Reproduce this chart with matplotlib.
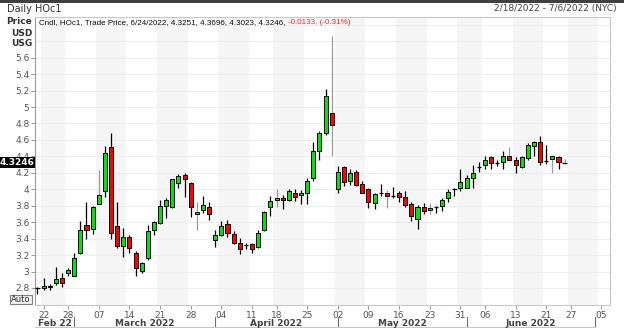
import matplotlib
matplotlib.use("Agg")
import matplotlib.pyplot as plt
from matplotlib.patches import Rectangle
import numpy as np
import pandas as pd

# trading days shown on the axis (NYMEX holidays removed)
holidays = ["2022-02-21", "2022-04-15", "2022-05-30", "2022-06-20", "2022-07-04"]
dates = pd.bdate_range("2022-02-18", "2022-07-06", freq="C", holidays=holidays)

# daily OHLC, HOc1, 2/18/2022 - 6/24/2022
opens = [2.80, 2.80, 2.81, 2.86, 2.92, 2.98, 2.95, 3.22, 3.56, 3.52,
         3.82, 3.98, 4.51, 3.55, 3.31, 3.42, 3.23, 3.01, 3.17, 3.50,
         3.59, 3.80, 3.79, 4.08, 4.17, 4.08, 3.70, 3.75, 3.79, 3.38,
         3.44, 3.58, 3.46, 3.35, 3.32, 3.34, 3.30, 3.50, 3.78, 3.87,
         3.90, 3.87, 3.96, 3.93, 3.96, 4.14, 4.46, 4.68, 4.93, 4.00,
         4.27, 4.10, 4.21, 4.07, 4.00, 3.83, 3.95, 3.96, 3.92, 3.95,
         3.91, 3.82, 3.64, 3.79, 3.75, 3.78, 3.80, 3.89, 4.00, 4.01,
         4.02, 4.14, 4.26, 4.30, 4.39, 4.31, 4.33, 4.41, 4.36, 4.27,
         4.38, 4.53, 4.57, 4.34, 4.37, 4.39, 4.3251]
highs = [2.81, 2.92, 2.85, 3.05, 2.98, 3.04, 3.22, 3.62, 3.85, 3.80,
         4.24, 4.53, 4.68, 3.85, 3.53, 3.45, 3.25, 3.12, 3.56, 3.62,
         3.87, 3.89, 4.13, 4.19, 4.20, 4.09, 3.85, 3.92, 3.85, 3.50,
         3.61, 3.63, 3.49, 3.41, 3.35, 3.35, 3.51, 3.74, 3.92, 4.00,
         3.93, 4.00, 4.00, 3.99, 4.14, 4.58, 4.71, 5.22, 5.87, 4.28,
         4.28, 4.25, 4.24, 4.10, 4.01, 3.96, 4.06, 3.99, 4.03, 3.98,
         3.98, 3.85, 3.81, 3.83, 3.83, 3.80, 3.90, 4.00, 4.02, 4.25,
         4.17, 4.29, 4.33, 4.40, 4.40, 4.36, 4.46, 4.51, 4.39, 4.40,
         4.56, 4.59, 4.65, 4.54, 4.42, 4.41, 4.3696]
lows = [2.73, 2.78, 2.78, 2.84, 2.81, 2.95, 2.94, 3.21, 3.39, 3.46,
        3.82, 3.91, 3.39, 3.29, 3.18, 3.22, 2.94, 2.98, 3.14, 3.45,
        3.58, 3.65, 3.77, 4.01, 3.91, 3.66, 3.51, 3.71, 3.63, 3.30,
        3.43, 3.42, 3.34, 3.21, 3.27, 3.22, 3.29, 3.49, 3.67, 3.79,
        3.76, 3.86, 3.86, 3.82, 3.82, 4.10, 4.36, 4.66, 4.41, 3.96,
        4.04, 4.05, 4.04, 3.95, 3.77, 3.76, 3.92, 3.77, 3.89, 3.85,
        3.78, 3.62, 3.52, 3.70, 3.70, 3.71, 3.74, 3.85, 3.92, 3.98,
        4.02, 4.02, 4.21, 4.25, 4.25, 4.28, 4.25, 4.35, 4.20, 4.26,
        4.36, 4.41, 4.29, 4.31, 4.20, 4.25, 4.3023]
closes = [2.79, 2.82, 2.83, 2.91, 2.86, 3.02, 3.16, 3.50, 3.51, 3.78,
          3.93, 4.44, 3.47, 3.31, 3.42, 3.29, 3.04, 3.10, 3.49, 3.60,
          3.80, 3.87, 4.12, 4.16, 4.12, 3.78, 3.72, 3.81, 3.70, 3.44,
          3.55, 3.47, 3.35, 3.27, 3.33, 3.27, 3.47, 3.72, 3.86, 3.89,
          3.87, 3.98, 3.91, 3.95, 4.10, 4.47, 4.68, 5.14, 4.78, 4.21,
          4.09, 4.20, 4.05, 3.96, 3.84, 3.94, 3.96, 3.92, 3.92, 3.91,
          3.81, 3.67, 3.79, 3.74, 3.77, 3.78, 3.87, 3.97, 4.01, 4.09,
          4.14, 4.20, 4.27, 4.36, 4.32, 4.32, 4.40, 4.36, 4.29, 4.39,
          4.54, 4.57, 4.33, 4.35, 4.41, 4.33, 4.3246]
net_change = -0.0133
pct_change = -0.31

tick_days = ["2022-02-22", "2022-02-28", "2022-03-07", "2022-03-14", "2022-03-21",
             "2022-03-28", "2022-04-04", "2022-04-11", "2022-04-18", "2022-04-25",
             "2022-05-02", "2022-05-09", "2022-05-16", "2022-05-23", "2022-05-31",
             "2022-06-06", "2022-06-13", "2022-06-21", "2022-06-27", "2022-07-05"]
month_names = ["Feb 22", "March 2022", "April 2022", "May 2022", "June 2022"]

W, H = 624, 328
GREEN = "#00e600"
RED = "#ff0000"
GRAY_WICKS = [10, 26, 39, 48, 57, 64, 77, 84, 86]

fig = plt.figure(figsize=(W / 100, H / 100), dpi=100)
fig.patch.set_facecolor("white")
ax = fig.add_axes([35 / W, (H - 305) / H, (610 - 35) / W, (305 - 17) / H])

x = np.arange(len(dates))
n = len(closes)

# alternating week shading (even ISO weeks)
weeks = dates.isocalendar().week.values
for wk in np.unique(weeks):
    if wk % 2 == 0:
        idx = x[weeks == wk]
        ax.axvspan(idx[0] - 0.5, idx[-1] + 0.5, color="#f5f5f5", lw=0, zorder=0)

ax.set_ylim(2.593, 6.095)
ax.set_xlim(-0.4, 93.4)
yt = np.round(np.arange(2.8, 5.61, 0.2), 1)
ax.set_yticks(yt)
ax.set_yticklabels(["%g" % v for v in yt])
for v in np.arange(2.8, 6.01, 0.2):
    ax.axhline(v, color="#ededed", lw=0.8, zorder=0.5)

for i in range(n):
    o, h, l, c = opens[i], highs[i], lows[i], closes[i]
    wc = "#9a9a9a" if i in GRAY_WICKS else "black"
    ax.vlines(x[i], l, h, color=wc, lw=0.9, zorder=2)
    if abs(c - o) < 0.012:
        ax.hlines((o + c) / 2, x[i] - 0.36, x[i] + 0.36, color="black", lw=0.9, zorder=3)
    else:
        fc = GREEN if c > o else RED
        ax.add_patch(Rectangle((x[i] - 0.33, min(o, c)), 0.66, abs(c - o),
                               facecolor=fc, edgecolor="black", lw=0.7, zorder=3))

for s in ["top", "right", "left", "bottom"]:
    ax.spines[s].set_color("#c8c8c8")
    ax.spines[s].set_linewidth(0.8)
ax.spines["left"].set_color("#9a9a9a")

tick_pos = [dates.get_loc(pd.Timestamp(d)) for d in tick_days]
ax.set_xticks(tick_pos)
ax.set_xticklabels([d[-2:] for d in tick_days])
ax.tick_params(axis="both", colors="#9a9a9a", labelcolor="#555555", labelsize=6.5,
               length=3, width=0.7, pad=1)

# month row
tr = ax.get_xaxis_transform()
month_starts = [0] + [i for i in range(1, len(dates)) if dates[i].month != dates[i - 1].month]
bounds = [-0.4] + month_starts[1:]
for k, name in enumerate(month_names):
    ax.text((bounds[k] + bounds[k + 1]) / 2, -0.064, name, transform=tr, ha="center",
            va="center", fontsize=6.5, fontweight="bold", color="#444444", clip_on=False)
for b in month_starts[1:]:
    ax.plot([b, b], [-0.04, -0.075], transform=tr, color="#707070", lw=0.8, clip_on=False)
ax.plot([-0.4, 91], [-0.075, -0.075], transform=tr, color="#c8c8c8", lw=0.8, clip_on=False)

# header texts
fig.text(7 / W, 1 - 9 / H, "Daily HOc1", fontsize=7, color="#333333", va="center")
fig.text(617 / W, 1 - 9 / H, "2/18/2022 - 7/6/2022 (NYC)", fontsize=6.5,
         color="#444444", va="center", ha="right")
for j, lab in enumerate(["Price", "USD", "USG"]):
    fig.text(32 / W, 1 - (22 + 11 * j) / H, lab, fontsize=6.5, color="#333333",
             fontweight="bold", va="center", ha="right")

last = dates[n - 1]
info = "Cndl, HOc1, Trade Price, %d/%d/%d, %.4f, %.4f, %.4f, %.4f, " % (
    last.month, last.day, last.year, opens[-1], highs[-1], lows[-1], closes[-1])
t1 = fig.text(39 / W, 1 - 23 / H, info, fontsize=5.8, family="Liberation Sans",
              color="#111111", va="center")
fig.canvas.draw()
bb = t1.get_window_extent()
fig.text(bb.x1 / W, 1 - 23 / H, "%.4f, (%.2f%%)" % (net_change, pct_change),
         fontsize=5.8, family="Liberation Sans", color="#ff2020", va="center")

# last price tag
fig.patches.append(Rectangle((0, (H - 168) / H), 35 / W, 11 / H, transform=fig.transFigure,
                             facecolor="black", edgecolor="none"))
fig.text(17.5 / W, (H - 162.5) / H, "%.4f" % closes[-1], fontsize=6.5, color="white",
         fontweight="bold", ha="center", va="center")

# auto button
fig.patches.append(Rectangle((10 / W, (H - 304) / H), 22 / W, 9 / H, transform=fig.transFigure,
                             facecolor="#f0f0f0", edgecolor="#808080", lw=0.8))
fig.text(21 / W, (H - 299.5) / H, "Auto", fontsize=6, color="#333333", ha="center", va="center")

# top bar
fig.patches.append(Rectangle((0, (H - 3) / H), 1, 3 / H, transform=fig.transFigure,
                             facecolor="#404040", edgecolor="none"))

fig.savefig("out.png", dpi=100)
